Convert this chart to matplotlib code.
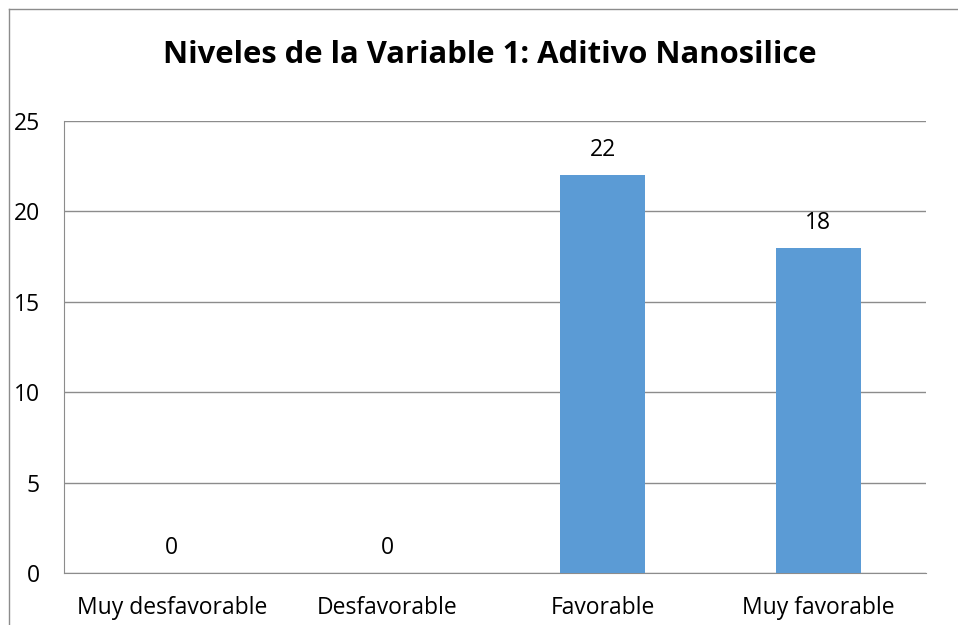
import matplotlib.pyplot as plt
from matplotlib.lines import Line2D

categories = ['Muy desfavorable', 'Desfavorable', 'Favorable', 'Muy favorable']
values = [0, 0, 22, 18]
yticks = [0, 5, 10, 15, 20, 25]
title = 'Niveles de la Variable 1: Aditivo Nanosilice'

plt.rcParams['font.family'] = ['Open Sans', 'DejaVu Sans']

W, H = 958, 625
fig = plt.figure(figsize=(W / 100, H / 100), dpi=100)
ax = fig.add_axes([64 / W, 1 - 573 / H, (926 - 64) / W, (573 - 121) / H])

x = range(len(categories))
bars = ax.bar(x, values, width=0.395, color='#5B9BD5', zorder=3)

for xi, v in zip(x, values):
    ax.annotate(str(v), (xi, v), xytext=(0, 18), textcoords='offset points',
                ha='center', va='center', fontsize=16.5)

ax.set_xlim(-0.5, len(categories) - 0.5)
ax.set_ylim(0, 25)
ax.set_yticks(yticks)
ax.set_xticks(list(x))
ax.set_xticklabels(categories)
ax.tick_params(axis='both', length=0, labelsize=16.5)
ax.tick_params(axis='y', pad=17.5)
ax.tick_params(axis='x', pad=16.5)
ax.grid(axis='y', color='#8c8c8c', linewidth=1, zorder=0)

for s in ['top', 'right']:
    ax.spines[s].set_visible(False)
ax.spines['left'].set_color('#8c8c8c')
ax.spines['bottom'].set_color('#8c8c8c')

fig.text(490 / W, 1 - 55 / H, title, ha='center', va='center',
         fontsize=22.3, fontweight='bold')

# outer chart border (only left and top visible in crop)
bx, by = 8.5 / W, 1 - 8.5 / H
fig.add_artist(Line2D([bx, bx], [0, by], transform=fig.transFigure, color='#8c8c8c', linewidth=1))
fig.add_artist(Line2D([bx, 1], [by, by], transform=fig.transFigure, color='#8c8c8c', linewidth=1))

plt.savefig('out.png', dpi=100)
plt.close(fig)
